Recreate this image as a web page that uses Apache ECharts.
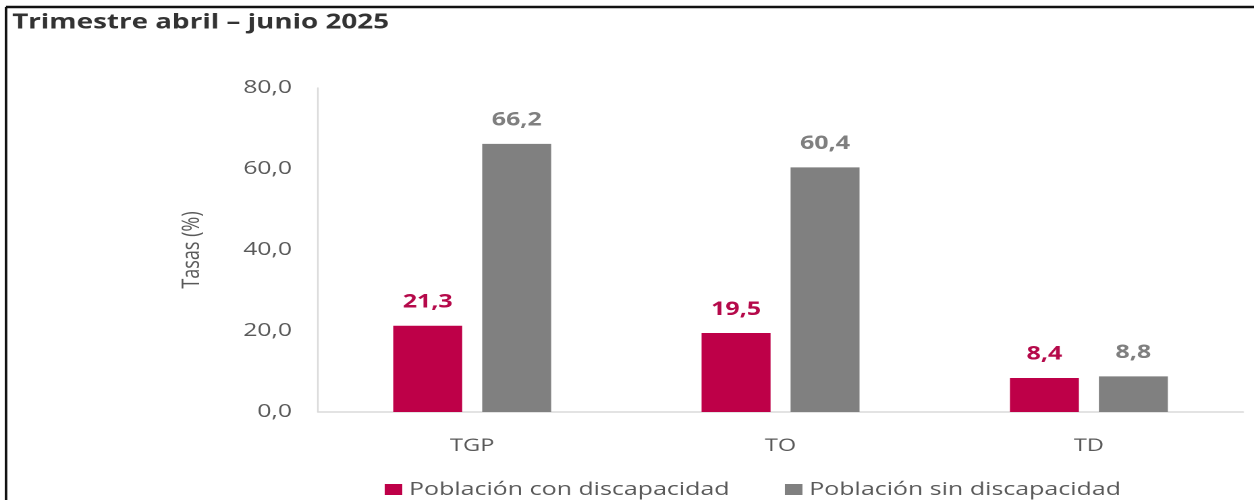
<!DOCTYPE html>
<html>
<head>
<meta charset="utf-8">
<script src="https://cdn.jsdelivr.net/npm/echarts@6/dist/echarts.min.js"></script>
<style>
html,body{margin:0;padding:0;background:#fff;overflow:hidden}
#c{width:929px;height:500px;transform:scaleX(1.34984);transform-origin:0 0}
</style>
</head>
<body>
<div id="c"></div>
<script>
const categories = ['TGP', 'TO', 'TD'];
const conDiscapacidad = [21.3, 19.5, 8.4];
const sinDiscapacidad = [66.2, 60.4, 8.8];
const seriesNames = ['Población con discapacidad', 'Población sin discapacidad'];
const titleText = 'Trimestre abril – junio 2025';
const yTicks = [0, 20, 40, 60, 80];

const fmt = v => v.toFixed(1).replace('.', ',');
// the reference picture is stretched horizontally; the chart is drawn at 929px wide and scaled in x
const chart = echarts.init(document.getElementById('c'), null, { devicePixelRatio: 2 });
const font = '"Open Sans", "Noto Sans", sans-serif';
chart.setOption({
  animation: false,
  textStyle: { fontFamily: font },
  title: {
    text: titleText, left: 4, top: 7,
    textStyle: { fontFamily: font, fontSize: 20.6, fontWeight: 'bold', color: '#333' }
  },
  graphic: [
    { type: 'line', shape: { x1: 4.4, y1: 7, x2: 929, y2: 7 }, style: { stroke: '#111', lineWidth: 2.5 } },
    { type: 'rect', shape: { x: 3.5, y: 7, width: 1.9, height: 493 }, style: { fill: '#111' } }
  ],
  legend: {
    left: 280, top: 475, itemWidth: 13, itemHeight: 11, itemGap: 41,
    icon: 'rect',
    textStyle: { fontFamily: font, fontSize: 18.5, color: '#595959' },
    data: seriesNames
  },
  grid: { left: 235.6, right: 8.1, top: 88, bottom: 88 },
  xAxis: {
    type: 'category', data: categories,
    axisLine: { lineStyle: { color: '#d9d9d9', width: 1.5 } },
    axisTick: { show: false },
    axisLabel: { fontSize: 17.5, color: '#595959', margin: 25, fontFamily: font }
  },
  yAxis: {
    type: 'value', min: yTicks[0], max: yTicks[yTicks.length - 1], interval: yTicks[1] - yTicks[0],
    name: 'Tasas (%)', nameLocation: 'middle', nameGap: 84, nameRotate: 90,
    nameTextStyle: { fontSize: 18, color: '#595959', fontFamily: font },
    axisLine: { show: true, lineStyle: { color: '#d9d9d9', width: 1.2 } },
    axisTick: { show: false },
    splitLine: { show: false },
    axisLabel: { fontSize: 18.3, color: '#595959', margin: 19.3, formatter: v => fmt(v), fontFamily: font }
  },
  series: [
    {
      name: seriesNames[0], type: 'bar', data: conDiscapacidad, barWidth: 51.1, barGap: '29%',
      itemStyle: { color: '#BE0048' },
      label: { show: true, position: 'top', distance: 14, fontSize: 18.5, fontWeight: 'bold', color: '#B5094A', formatter: p => fmt(p.value), fontFamily: font }
    },
    {
      name: seriesNames[1], type: 'bar', data: sinDiscapacidad, barWidth: 51.1,
      itemStyle: { color: '#808080' },
      label: { show: true, position: 'top', distance: 14, fontSize: 18.5, fontWeight: 'bold', color: '#7f7f7f', formatter: p => fmt(p.value), fontFamily: font }
    }
  ]
});
</script>
</body>
</html>
